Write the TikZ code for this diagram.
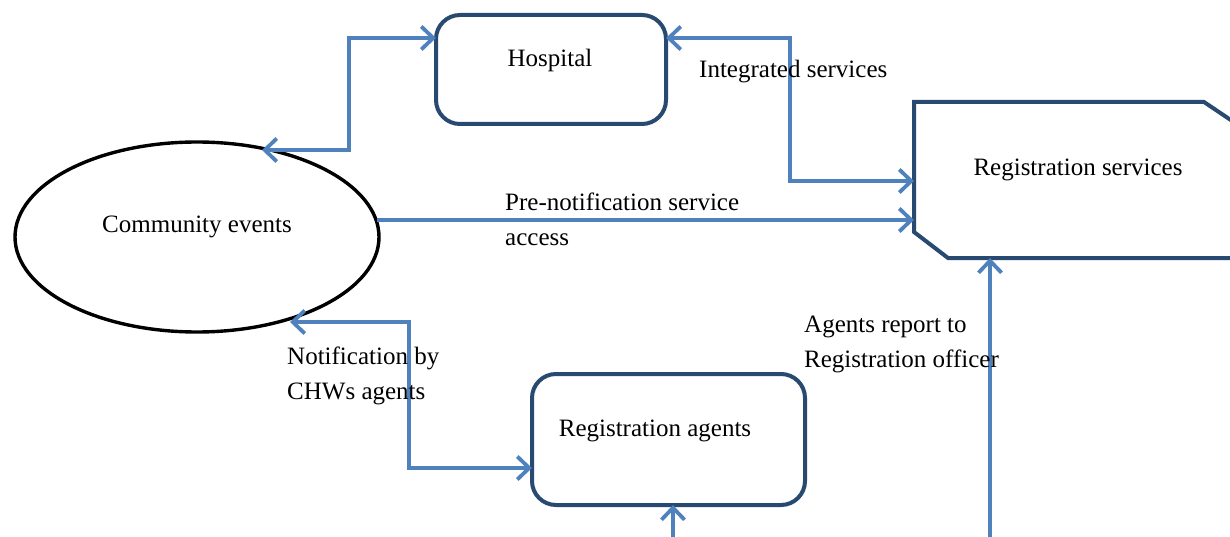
\documentclass[tikz,border=0pt]{standalone}
\usepackage{fontspec}
\setmainfont{Liberation Serif}
\usetikzlibrary{arrows.meta,shapes.geometric}
\definecolor{flowblue}{HTML}{4F81BD}
\definecolor{boxnavy}{HTML}{294A70}
\tikzset{
  barb/.tip={Straight Barb[length=12pt,width=23pt,line width=3.8pt]},
  flow/.style={draw=flowblue, line width=4pt, line join=miter, arrows={-barb}},
  flowboth/.style={flow, arrows={barb-barb}},
  roundbox/.style={draw=boxnavy, line width=4pt, rounded corners=24pt, inner sep=0pt},
  txt/.style={font=\fontsize{25}{35}\selectfont, inner sep=0pt},
  txtl/.style={txt, align=left, anchor=west},
}
\begin{document}
\begin{tikzpicture}[x=1pt,y=-1pt]
  \useasboundingbox (0,0) rectangle (1230,537);
  \fill[white] (0,0) rectangle (1230,537);
  \clip (0,0) rectangle (1230,537);

  % boxes
  \node[roundbox, minimum width=230pt, minimum height=109pt] (hosp) at (551,69.5) {};
  \node[txt] (hospt) at (550,60) {Hospital};

  \node[roundbox, minimum width=273pt, minimum height=131pt] (ra) at (668.5,439.5) {};
  \node[txt] (rat) at (655,431) {Registration agents};

  \node[draw=black, line width=3.4pt, ellipse, minimum width=364pt, minimum height=190pt, inner sep=0pt] (ce) at (197,237) {};
  \node[txt] (cet) at (197,227) {Community events};

  % registration services: cut-corner panel running off the right edge
  \node[minimum width=330pt, minimum height=156pt, inner sep=0pt] (rs) at (1079,180) {};
  \draw[boxnavy, line width=4pt, line join=miter]
    (914,102) -- (1204,102) -- (1250,133) -- (1250,258) -- (948,258) -- (914,232) -- cycle;
  \node[txt] (rst) at (1078,170) {Registration services};

  % connector end points
  \coordinate (ceA) at (262,150);
  \coordinate (ceB) at (377,220);
  \coordinate (ceC) at (290,322);
  \coordinate (hA) at (436,38);
  \coordinate (hB) at (666,38);
  \coordinate (rsA) at (914,181);
  \coordinate (rsB) at (914,220);
  \coordinate (raA) at (532,468);
  \coordinate (raB) at (673,505);
  \coordinate (botA) at (673,540);
  \coordinate (botB) at (990,540);
  \coordinate (rsC) at (990,258);

  % connectors
  \draw[flowboth] (ceA) -- (349,150) |- (hA);
  \draw[flowboth] (hB) -- (790,38) |- (rsA);
  \draw[flow] (ceB) -- (rsB);
  \draw[flowboth] (ceC) -- (409,322) |- (raA);
  \draw[flow] (botA) -- (raB);
  \draw[flow] (botB) -- (rsC);

  % labels
  \node[txtl] (l1) at (699,72) {Integrated services};
  \node[txtl, anchor=north west] (l2) at (505,193) {Pre-notification service\\access};
  \node[txtl, anchor=north west] (l3) at (287,347) {Notification by\\CHWs agents};
  \node[txtl, anchor=north west] (l4) at (804,316) {Agents report to\\Registration officer};
\end{tikzpicture}
\end{document}
